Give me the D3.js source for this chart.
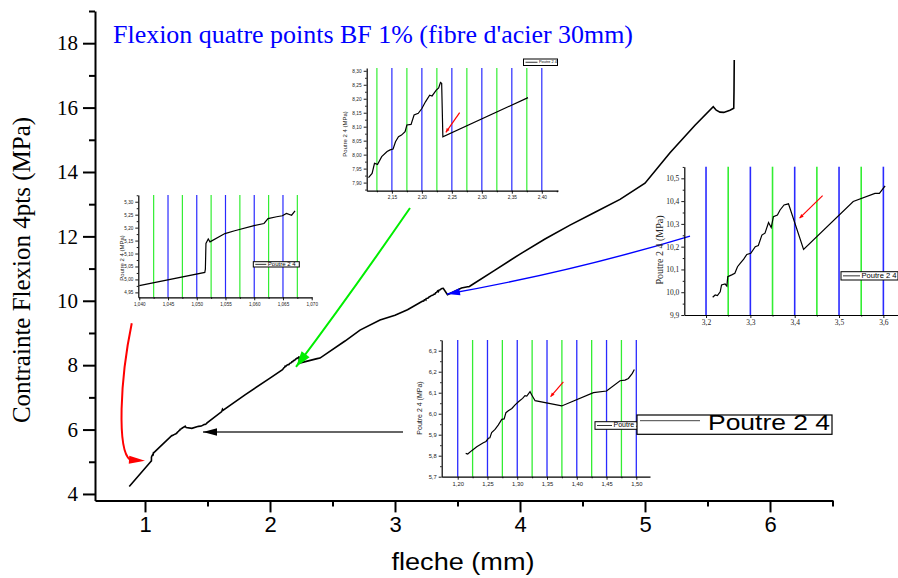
<!DOCTYPE html>
<html><head><meta charset="utf-8">
<script src="https://cdn.jsdelivr.net/npm/d3@7"></script>
<style>body{margin:0;background:#fff}</style>
</head><body><svg id="c" width="898" height="578"></svg>
<script>
// ---------------- DATA ----------------
const seriesName = "Poutre 2 4";
const chartTitle = "Flexion quatre points BF 1% (fibre d'acier 30mm)";
const xTitle = "fleche (mm)";
const yTitle = "Contrainte Flexion 4pts (MPa)";
const insetYTitle = "Poutre 2 4 (MPa)";

const flecheMm = [0.874,1.040,1.0514,1.0515,1.0516,1.052,1.0523,1.0549,1.0566,1.0598,1.0617,1.0624,1.0639,1.0649,1.0656,1.0665,1.0671,1.094,
1.2134,1.2168,1.2235,1.232,1.243,1.2475,1.2515,1.254,1.257,1.2627,1.268,1.274,1.278,1.281,1.285,1.291,1.296,1.302,1.309,1.313,1.316,1.3215,1.3244,1.33,1.3747,1.428,1.45,1.4727,1.481,1.4867,1.4933,1.4967,
1.614,1.62,1.626,1.8,2.0,2.1,
2.111,2.117,2.121,2.126,2.133,2.142,2.147,2.152,2.156,2.161,2.166,2.172,2.175,2.182,2.187,2.194,2.2,2.206,2.213,2.217,2.224,2.228,2.231,2.233,2.235,2.377,
2.4,2.6,2.72,2.88,3.0,3.1,
3.215,3.2206,3.2256,3.232,3.235,3.243,3.247,3.249,3.258,3.265,3.271,3.277,3.285,3.292,3.301,3.311,3.318,3.326,3.333,3.341,3.347,3.352,3.361,3.367,3.376,3.386,3.42,3.532,3.581,3.591,3.604,
3.8,4.0,4.2,4.4,4.6,4.8,5.0,5.2,5.4,5.546,5.57,5.6,5.63,5.68,5.71,5.712,5.713,5.714];

const contrainteMPa = [4.23,4.976,5.027,5.04,5.139,5.156,5.145,5.177,5.188,5.207,5.216,5.235,5.242,5.246,5.255,5.248,5.265,5.37,
5.811,5.808,5.824,5.843,5.862,5.868,5.883,5.885,5.91,5.925,5.946,5.973,5.975,6.005,6.014,6.025,6.041,6.057,6.073,6.086,6.084,6.105,6.089,6.062,6.037,6.1,6.108,6.157,6.16,6.168,6.192,6.211,
6.56,6.63,6.6,7.08,7.6,7.86,
7.918,7.933,7.969,7.965,7.993,8.011,8.017,8.02,8.046,8.064,8.07,8.082,8.106,8.108,8.142,8.148,8.165,8.189,8.213,8.21,8.231,8.239,8.258,8.255,8.064,8.204,
8.22,8.75,9.09,9.4,9.55,9.72,
9.978,9.988,9.985,10.002,10.032,10.036,10.027,10.068,10.076,10.083,10.112,10.127,10.145,10.166,10.171,10.2,10.205,10.251,10.259,10.306,10.284,10.332,10.339,10.361,10.383,10.388,10.188,10.398,10.434,10.434,10.467,
10.95,11.45,11.92,12.35,12.75,13.15,13.65,14.6,15.45,16.03,15.92,15.86,15.85,15.92,15.98,16.5,17.0,17.48];

const mainXDomain = [0.6, 6.5];
const mainYDomain = [3.8, 19];
const xMajorTicks = [1,2,3,4,5,6];
const xMinorTicks = [1.5,2.5,3.5,4.5,5.5,6.5];
const yMajorTicks = [4,6,8,10,12,14,16,18];
const yMinorTicks = [5,7,9,11,13,15,17,19];

// Inset A (around 2.2 mm)
const insetA_xDomain = [2.108, 2.427], insetA_yDomain = [7.871, 8.31], insetA_range = [2.11, 2.378];
const insetA_xTicks = [2.15,2.20,2.25,2.30,2.35,2.40];
const insetA_xMinor = [2.125,2.175,2.225,2.275,2.325,2.375,2.425];
const insetA_yTicks = [7.90,7.95,8.00,8.05,8.10,8.15,8.20,8.25,8.30];
const insetA_yMinor = [7.875,7.925,7.975,8.025,8.075,8.125,8.175,8.225,8.275];
const insetA_blue = [2.15,2.20,2.25,2.30,2.35,2.40];
const insetA_green = [2.125,2.175,2.225,2.275,2.325,2.375];
const insetA_redArrow = [[2.263,8.15],[2.24,8.08]];

// Inset B (around 1.05 mm)
const insetB_xDomain = [1.03983, 1.07005], insetB_yDomain = [4.931, 5.326], insetB_range = [1.039, 1.068];
const insetB_xTicks = [1.040,1.045,1.050,1.055,1.060,1.065,1.070];
const insetB_xMinor = [1.0425,1.0475,1.0525,1.0575,1.0625,1.0675];
const insetB_yTicks = [4.95,5.00,5.05,5.10,5.15,5.20,5.25,5.30];
const insetB_yMinor = [4.975,5.025,5.075,5.125,5.175,5.225,5.275,5.325];
const insetB_blue = [1.045,1.050,1.055,1.060,1.065];
const insetB_green = [1.0425,1.0475,1.0525,1.0575,1.0625,1.0675];

// Inset C (around 3.4 mm)
const insetC_xDomain = [3.151, 3.633], insetC_yDomain = [9.9, 10.551], insetC_range = [3.21, 3.61];
const insetC_xTicks = [3.2,3.3,3.4,3.5,3.6];
const insetC_xMinor = [3.25,3.35,3.45,3.55];
const insetC_yTicks = [9.9,10.0,10.1,10.2,10.3,10.4,10.5];
const insetC_yMinor = [9.95,10.05,10.15,10.25,10.35,10.45,10.55];
const insetC_blue = [3.2,3.3,3.4,3.5,3.6];
const insetC_green = [3.25,3.35,3.45,3.55];
const insetC_redArrow = [[3.463,10.424],[3.411,10.325]];

// Inset D (around 1.35 mm)
const insetD_xDomain = [1.1731, 1.523], insetD_yDomain = [5.7, 6.351], insetD_range = [1.21, 1.50];
const insetD_xTicks = [1.20,1.25,1.30,1.35,1.40,1.45,1.50];
const insetD_xMinor = [1.225,1.275,1.325,1.375,1.425,1.475];
const insetD_yTicks = [5.7,5.8,5.9,6.0,6.1,6.2,6.3];
const insetD_yMinor = [5.75,5.85,5.95,6.05,6.15,6.25,6.35];
const insetD_blue = [1.20,1.25,1.30,1.35,1.40,1.45,1.50];
const insetD_green = [1.225,1.275,1.325,1.375,1.425,1.475];
const insetD_redArrow = [[1.3775,6.152],[1.356,6.081]];

// Annotation arrows (main-chart data coordinates)
const redArrowPath = [[0.894,9.30],[0.80,7.54],[0.776,5.37],[0.88,5.06]];
const redArrowTip = [1.0,5.03];
const greenArrowPath = [[3.12,12.88],[2.64,10.18],[2.208,7.944]];
const blackArrowPath = [[3.064,5.925],[1.464,5.925]];
const blueArrowPath = [[5.36,12.01],[4.408,10.89],[3.416,10.21]];

// ---------------- DRAW ----------------
const svg = d3.select("#c");
const SANS = "'Liberation Sans', Arial, sans-serif";
const SERIF = "'Liberation Serif', 'Times New Roman', serif";
const pts = flecheMm.map((v,i)=>[v, contrainteMPa[i]]);

const x = d3.scaleLinear().domain(mainXDomain).range([95, 832.5]);
const y = d3.scaleLinear().domain(mainYDomain).range([500.4, 11]);

function head(g, tip, from, len, hw, color){
  const a = Math.atan2(tip[1]-from[1], tip[0]-from[0]);
  const bx = tip[0]-len*Math.cos(a), by = tip[1]-len*Math.sin(a);
  const px = -Math.sin(a)*hw, py = Math.cos(a)*hw;
  g.append("path").attr("d",`M${tip[0]},${tip[1]}L${bx+px},${by+py}L${bx-px},${by-py}Z`).attr("fill",color);
}
const fmtC = f => d => d3.format(f)(d).replace(".", ",");

// Title
svg.append("text").attr("x",113).attr("y",43).attr("font-family",SERIF).attr("font-size",25)
  .attr("textLength",520).attr("lengthAdjust","spacingAndGlyphs")
  .attr("fill","#0000ff").text(chartTitle);

// Main axes
const gxMinor = svg.append("g").attr("transform",`translate(0,${y(3.8)})`)
  .call(d3.axisBottom(x).tickValues(xMinorTicks).tickSize(6).tickFormat("").tickSizeOuter(0));
gxMinor.select(".domain").remove();
const gx = svg.append("g").attr("transform",`translate(0,${y(3.8)})`)
  .call(d3.axisBottom(x).tickValues(xMajorTicks).tickSize(12).tickPadding(4).tickFormat(d3.format("d")).tickSizeOuter(0));
gx.selectAll("text").attr("font-family",SANS).attr("font-size",22).attr("fill","#000");
[gxMinor,gx].forEach(g=>{g.selectAll("line").attr("stroke","#000").attr("stroke-width",2);});
gx.select(".domain").attr("stroke","#000").attr("stroke-width",2);

const gyMinor = svg.append("g").attr("transform",`translate(${x(0.6)},0)`)
  .call(d3.axisLeft(y).tickValues(yMinorTicks).tickSize(6).tickFormat("").tickSizeOuter(0));
gyMinor.select(".domain").remove();
const gy = svg.append("g").attr("transform",`translate(${x(0.6)},0)`)
  .call(d3.axisLeft(y).tickValues(yMajorTicks).tickSize(12).tickPadding(5).tickFormat(d3.format("d")).tickSizeOuter(0));
gy.selectAll("text").attr("font-family",SERIF).attr("font-size",21).attr("fill","#000");
[gyMinor,gy].forEach(g=>{g.selectAll("line").attr("stroke","#000").attr("stroke-width",2);});
gy.select(".domain").attr("stroke","#000").attr("stroke-width",2);

svg.append("text").attr("transform","translate(30,270) rotate(-90)").attr("text-anchor","middle")
  .attr("font-family",SERIF).attr("font-size",25).text(yTitle);
svg.append("text").attr("x",463).attr("y",570).attr("text-anchor","middle")
  .attr("font-family",SANS).attr("font-size",23).attr("textLength",143).attr("lengthAdjust","spacingAndGlyphs").text(xTitle);

// Main curve
svg.append("path").datum(pts).attr("fill","none").attr("stroke","#000").attr("stroke-width",1.6)
  .attr("d", d3.line().x(d=>x(d[0])).y(d=>y(d[1])));

// Annotation arrows
const P = d => [x(d[0]), y(d[1])];
const ann = svg.append("g");
{
  const r = redArrowPath.map(P);
  ann.append("path").attr("d",`M${r[0]}C${r[1]} ${r[2]} ${r[3]}`).attr("fill","none").attr("stroke","#ff0000").attr("stroke-width",2);
  head(ann, P(redArrowTip), r[3], 16, 4, "#ff0000");
  const g = greenArrowPath.map(P);
  ann.append("path").attr("d",`M${g[0]}Q${g[1]} ${g[2]}`).attr("fill","none").attr("stroke","#00ee00").attr("stroke-width",2);
  head(ann, g[2], g[1], 16, 5, "#00ee00");
  const k = blackArrowPath.map(P);
  ann.append("path").attr("d",`M${k[0]}L${k[1]}`).attr("stroke","#333").attr("stroke-width",1.6);
  head(ann, k[1], k[0], 14, 3.8, "#000");
  const b = blueArrowPath.map(P);
  ann.append("path").attr("d",`M${b[0]}Q${b[1]} ${b[2]}`).attr("fill","none").attr("stroke","#0000ff").attr("stroke-width",1.4);
  head(ann, b[2], b[1], 13, 3.5, "#0000ff");
}

// Insets
let clipId = 0;
function inset(c){
  const g = svg.append("g");
  const xs = d3.scaleLinear().domain(c.xd).range([c.l, c.r]);
  const ys = d3.scaleLinear().domain(c.yd).range([c.b, c.t]);
  c.green.forEach(v=>g.append("line").attr("x1",xs(v)).attr("x2",xs(v)).attr("y1",c.t).attr("y2",c.b).attr("stroke","#33ee33").attr("stroke-width",c.lw));
  c.blue.forEach(v=>g.append("line").attr("x1",xs(v)).attr("x2",xs(v)).attr("y1",c.t).attr("y2",c.b).attr("stroke","#2a2aff").attr("stroke-width",c.lw));
  const id = "clip"+(clipId++);
  g.append("clipPath").attr("id",id).append("rect").attr("x",c.l).attr("y",c.t).attr("width",c.r-c.l).attr("height",c.b-c.t);
  const sub = pts.filter(p=>p[0]>=c.range[0] && p[0]<=c.range[1]);
  g.append("path").datum(sub).attr("clip-path",`url(#${id})`).attr("fill","none").attr("stroke","#000").attr("stroke-width",1.2)
    .attr("d", d3.line().x(d=>xs(d[0])).y(d=>ys(d[1])));
  if (c.red){
    const P2 = d => [xs(d[0]), ys(d[1])];
    const a = P2(c.red[0]), t = P2(c.red[1]);
    g.append("line").attr("x1",a[0]).attr("y1",a[1]).attr("x2",t[0]).attr("y2",t[1]).attr("stroke","#ff0000").attr("stroke-width",1.2);
    head(g, t, a, 4, 1.8, "#ff0000");
  }
  const font = c.font, fs = c.fs;
  const ax = g.append("g").attr("transform",`translate(0,${c.b})`)
    .call(d3.axisBottom(xs).tickValues(c.xt).tickSize(3).tickPadding(2).tickFormat(fmtC(c.xf)).tickSizeOuter(0));
  const axm = g.append("g").attr("transform",`translate(0,${c.b})`)
    .call(d3.axisBottom(xs).tickValues(c.xm).tickSize(1.6).tickFormat("").tickSizeOuter(0));
  axm.select(".domain").remove();
  const ay = g.append("g").attr("transform",`translate(${c.l},0)`)
    .call(d3.axisLeft(ys).tickValues(c.yt).tickSize(3).tickPadding(2).tickFormat(fmtC(c.yf)).tickSizeOuter(0));
  const aym = g.append("g").attr("transform",`translate(${c.l},0)`)
    .call(d3.axisLeft(ys).tickValues(c.ym).tickSize(1.6).tickFormat("").tickSizeOuter(0));
  aym.select(".domain").remove();
  [ax,axm,ay,aym].forEach(a=>{a.selectAll("line").attr("stroke","#000").attr("stroke-width",0.9);
    a.selectAll(".domain").attr("stroke","#000").attr("stroke-width",1.2);
    a.selectAll("text").attr("font-family",font).attr("font-size",fs).attr("fill","#222");});
  g.append("text").attr("transform",`translate(${c.tx},${c.ty}) rotate(-90)`).attr("text-anchor","middle")
    .attr("dominant-baseline","middle").attr("font-family",font).attr("font-size",c.tfs).attr("fill","#222").text(insetYTitle);
  // legend
  const L = c.leg;
  g.append("rect").attr("x",L[0]).attr("y",L[1]).attr("width",L[2]).attr("height",L[3]).attr("fill","#fff").attr("stroke","#000").attr("stroke-width",1);
  g.append("line").attr("x1",L[0]+2).attr("x2",L[0]+L[4]).attr("y1",L[1]+L[3]/2).attr("y2",L[1]+L[3]/2).attr("stroke","#000").attr("stroke-width",0.8);
  g.append("text").attr("x",L[0]+L[4]+1.5).attr("y",L[1]+L[3]/2).attr("dominant-baseline","middle")
    .attr("font-family",SANS).attr("font-size",L[5]).text(seriesName);
}

inset({l:366.7,r:558,t:68,b:190.7,xd:insetA_xDomain,yd:insetA_yDomain,range:insetA_range,
  xt:insetA_xTicks,xm:insetA_xMinor,yt:insetA_yTicks,ym:insetA_yMinor,xf:".2f",yf:".2f",
  blue:insetA_blue,green:insetA_green,red:insetA_redArrow,lw:1.2,font:SANS,fs:4.8,
  tx:345,ty:134,tfs:6,leg:[523.5,59,34,6.5,14,3.9]});
inset({l:138.3,r:312,t:195,b:297.3,xd:insetB_xDomain,yd:insetB_yDomain,range:insetB_range,
  xt:insetB_xTicks,xm:insetB_xMinor,yt:insetB_yTicks,ym:insetB_yMinor,xf:".3f",yf:".2f",
  blue:insetB_blue,green:insetB_green,red:null,lw:1.2,font:SANS,fs:4.6,
  tx:122,ty:258,tfs:6,leg:[253.3,261.7,46,5.3,13,6]});
inset({l:684.3,r:898,t:166.7,b:315,xd:insetC_xDomain,yd:insetC_yDomain,range:insetC_range,
  xt:insetC_xTicks,xm:insetC_xMinor,yt:insetC_yTicks,ym:insetC_yMinor,xf:".1f",yf:".1f",
  blue:insetC_blue,green:insetC_green,red:insetC_redArrow,lw:1.6,font:SERIF,fs:7.5,
  tx:661,ty:250,tfs:10,leg:[841,271.7,57,8.3,19,7.6]});
inset({l:441.7,r:650,t:340,b:476.7,xd:insetD_xDomain,yd:insetD_yDomain,range:insetD_range,
  xt:insetD_xTicks,xm:insetD_xMinor,yt:insetD_yTicks,ym:insetD_yMinor,xf:".2f",yf:".1f",
  blue:insetD_blue,green:insetD_green,red:insetD_redArrow,lw:1.3,font:SANS,fs:5.8,
  tx:420,ty:408,tfs:7,leg:[595,421.7,43,7.6,17,7]});

// Main legend
const lg = svg.append("g");
lg.append("rect").attr("x",637).attr("y",415).attr("width",195).attr("height",19.3).attr("fill","#fff").attr("stroke","#000").attr("stroke-width",1.2);
lg.append("line").attr("x1",640).attr("x2",700).attr("y1",420.7).attr("y2",420.7).attr("stroke","#444").attr("stroke-width",1);
lg.append("text").attr("x",708).attr("y",429.5).attr("font-family",SANS).attr("font-size",22)
  .attr("textLength",122).attr("lengthAdjust","spacingAndGlyphs").text(seriesName);
</script>
</body></html>
